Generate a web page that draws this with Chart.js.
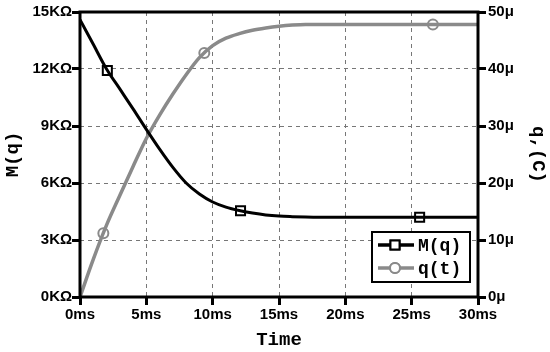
<!DOCTYPE html>
<html>
<head>
<meta charset="utf-8">
<script src="https://cdn.jsdelivr.net/npm/chart.js@4.4.1/dist/chart.umd.min.js"></script>
<style>
  body { margin: 0; background: #fff; }
</style>
</head>
<body>
<canvas id="graf" width="550" height="352"></canvas>
<script>
// vrijeme u ms
const vrijeme = [0,1,2,3,4,5,6,7,8,9,10,11,12,13,14,15,16,17,18,19,20,21,22,23,24,25,26,27,28,29,30];
// M(q) u omima
const memristansa = [14600,13300,12000,10950,9900,8820,7780,6820,6000,5420,5000,4730,4550,4420,4320,4260,4230,4210,4200,4200,4200,4200,4200,4200,4200,4200,4200,4200,4200,4200,4200];
// q(t) u mikrokulonima
const naboj = [0,6.6,12.6,17.8,22.9,27.8,31.9,35.6,39.0,42.0,44.1,45.4,46.2,46.8,47.2,47.5,47.7,47.8,47.8,47.8,47.8,47.8,47.8,47.8,47.8,47.8,47.8,47.8,47.8,47.8,47.8];

// markeri na krivama
const markeriM = [{ x: 2.06, y: 11920 }, { x: 12.1, y: 4535 }, { x: 25.6, y: 4200 }];
const markeriQ = [{ x: 1.76, y: 11.2 }, { x: 9.37, y: 42.8 }, { x: 26.6, y: 47.8 }];

const xTicks = [0, 5, 10, 15, 20, 25, 30];
const mTicks = [0, 3000, 6000, 9000, 12000, 15000];
const qTicks = [0, 10, 20, 30, 40, 50];

const SIVA = "#8a8a8a";
const fontTick = { family: "Liberation Sans", weight: "bold", size: 15 };
const fontMono = { family: "Liberation Mono", weight: "bold", size: 19 };

// okvir oko grafa
const okvir = {
    id: "okvir",
    afterDraw(chart) {
        const { ctx, chartArea: a } = chart;
        ctx.save();
        ctx.strokeStyle = "#000";
        ctx.lineWidth = 3;
        ctx.strokeRect(a.left, a.top, a.right - a.left, a.bottom - a.top);
        ctx.restore();
    }
};

// legenda kao u originalu (linija + marker)
const legenda = {
    id: "legenda",
    afterDraw(chart) {
        const { ctx, chartArea: a } = chart;
        const w = 98, h = 50;
        const x = a.right - 8 - w, y = a.bottom - 15 - h;
        ctx.save();
        ctx.fillStyle = "#fff";
        ctx.fillRect(x, y, w, h);
        ctx.strokeStyle = "#000";
        ctx.lineWidth = 2;
        ctx.strokeRect(x, y, w, h);

        const redovi = [
            { tekst: "M(q)", boja: "#000", stil: "rect", r: 6.4 },
            { tekst: "q(t)", boja: SIVA, stil: "circle", r: 5 }
        ];
        redovi.forEach((red, i) => {
            const yy = y + 13 + i * 23;
            ctx.strokeStyle = red.boja;
            ctx.lineWidth = 3.5;
            ctx.beginPath();
            ctx.moveTo(x + 6, yy);
            ctx.lineTo(x + 42, yy);
            ctx.stroke();
            ctx.fillStyle = "#fff";
            ctx.lineWidth = 2;
            Chart.helpers.drawPoint(ctx, { pointStyle: red.stil, radius: red.r, borderWidth: 2 }, x + 23, yy);
            ctx.fill();
            ctx.stroke();
            ctx.fillStyle = "#000";
            ctx.font = "bold 18px 'Liberation Mono'";
            ctx.textBaseline = "middle";
            ctx.fillText(red.tekst, x + 46, yy + 1);
        });
        ctx.restore();
    }
};

const mapiraj = (niz) => vrijeme.map((t, i) => ({ x: t, y: niz[i] }));

new Chart(document.getElementById("graf").getContext("2d"), {
    type: "line",
    data: {
        datasets: [
            {
                label: "M(q)",
                data: mapiraj(memristansa),
                yAxisID: "y",
                borderColor: "#000",
                borderWidth: 3,
                pointRadius: 0,
                cubicInterpolationMode: "monotone"
            },
            {
                label: "q(t)",
                data: mapiraj(naboj),
                yAxisID: "y2",
                borderColor: SIVA,
                borderWidth: 3.5,
                pointRadius: 0,
                cubicInterpolationMode: "monotone"
            },
            {
                label: "markeriM",
                data: markeriM,
                yAxisID: "y",
                showLine: false,
                pointStyle: "rect",
                pointRadius: 6.4,
                pointBorderWidth: 2,
                pointBorderColor: "#000",
                pointBackgroundColor: "#fff"
            },
            {
                label: "markeriQ",
                data: markeriQ,
                yAxisID: "y2",
                showLine: false,
                pointStyle: "circle",
                pointRadius: 5,
                pointBorderWidth: 2,
                pointBorderColor: SIVA,
                pointBackgroundColor: "#fff"
            }
        ]
    },
    options: {
        responsive: false,
        animation: false,
        layout: { padding: { top: 12 } },
        plugins: {
            legend: { display: false },
            tooltip: { enabled: false }
        },
        scales: {
            x: {
                type: "linear",
                min: 0,
                max: 30,
                afterBuildTicks: s => { s.ticks = xTicks.map(v => ({ value: v })); },
                afterFit: s => { s.height = 55; },
                ticks: { callback: v => v + "ms", font: fontTick, color: "#000", padding: 1, maxRotation: 0 },
                grid: { color: "#777", lineWidth: 1, tickLength: 8, tickWidth: 3, tickColor: "#000", tickBorderDash: [] },
                border: { display: false, dash: [4, 4] },
                title: { display: true, text: "Time", font: fontMono, color: "#000", padding: 0 }
            },
            y: {
                position: "left",
                min: 0,
                max: 15000,
                afterBuildTicks: s => { s.ticks = mTicks.map(v => ({ value: v })); },
                afterFit: s => { s.width = 80; },
                ticks: { callback: v => (v / 1000) + "KΩ", font: fontTick, color: "#000", padding: 0 },
                grid: { color: "#777", lineWidth: 1, tickLength: 8, tickWidth: 3, tickColor: "#000", tickBorderDash: [] },
                border: { display: false, dash: [4, 4] },
                title: { display: true, text: "M(q)", font: fontMono, color: "#000", padding: { top: 2, bottom: 0 } }
            },
            y2: {
                position: "right",
                min: 0,
                max: 50,
                afterBuildTicks: s => { s.ticks = qTicks.map(v => ({ value: v })); },
                afterFit: s => { s.width = 72; },
                ticks: { callback: v => v + "μ", font: fontTick, color: "#000", padding: 2 },
                grid: { drawOnChartArea: false, tickLength: 8, tickWidth: 3, tickColor: "#000" },
                border: { display: false },
                title: { display: true, text: "q,(C)", font: fontMono, color: "#000", padding: { top: 1, bottom: 0 } }
            }
        }
    },
    plugins: [okvir, legenda]
});
</script>
</body>
</html>
